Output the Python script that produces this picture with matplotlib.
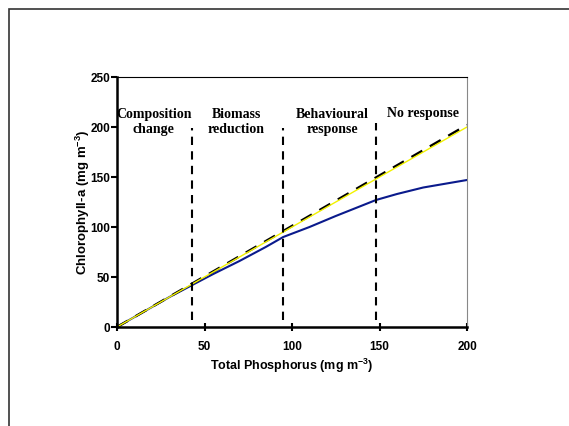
import matplotlib
matplotlib.use("Agg")
import matplotlib.pyplot as plt
from matplotlib.patches import Rectangle

# data
tp_blue = [0, 10, 20, 30, 43, 55, 70, 85, 95, 110, 125, 148, 160, 175, 190, 200]
chl_blue = [0, 10, 20, 30, 42, 53, 66, 80, 90, 100, 111, 127, 133, 139.5, 144, 147]
tp_line = [0, 200]
chl_dashed = [0, 202]
chl_yellow = [0, 200]
bounds = [43, 95, 148]
bound_tops = [199, 199, 204]
zone_labels = ["Composition\nchange", "Biomass\nreduction", "Behavioural\nresponse", "No response"]
zone_x = [21, 68, 123, 175]
zone_y = [205, 205, 205, 214]

fig = plt.figure(figsize=(5.69, 4.26), dpi=100)
fig.patches.append(Rectangle((9 / 569, -0.1), 1.2, 1 - 9 / 426 + 0.1,
                             transform=fig.transFigure, fill=False,
                             edgecolor="#333333", linewidth=1.2))

ax = fig.add_axes([117 / 569, 1 - 327 / 426, 350 / 569, 250 / 426])

ax.plot(tp_blue, chl_blue, color="#0a1a8c", linewidth=1.5)
ax.plot(tp_line, chl_dashed, color="black", linewidth=1.8, dashes=(5, 3.5))
ax.plot(tp_line, chl_yellow, color="#f2f200", linewidth=1.0)
for b, t in zip(bounds, bound_tops):
    ax.plot([b, b], [7, t], color="black", linewidth=1.5, dashes=(4, 3))

for x, y, s in zip(zone_x, zone_y, zone_labels):
    ax.text(x, y, s, ha="center", va="center", family="Liberation Serif",
            fontweight="bold", fontsize=10, linespacing=1.15)

ax.set_xlim(0, 200)
ax.set_ylim(0, 250)
ax.set_xticks([0, 50, 100, 150, 200])
ax.set_yticks([0, 50, 100, 150, 200, 250])

for side in ["left", "bottom"]:
    ax.spines[side].set_linewidth(1.8)
ax.spines["top"].set_linewidth(0.8)
ax.spines["right"].set_linewidth(0.8)
ax.spines["right"].set_color("#888888")

ax.tick_params(axis="y", direction="out", length=4, width=1.5, pad=1)
ax.tick_params(axis="x", direction="inout", length=6, width=1.5, pad=7)
for lab in ax.get_xticklabels() + ax.get_yticklabels():
    lab.set_family("Liberation Sans")
    lab.set_fontweight("bold")
    lab.set_fontsize(8.5)

ax.set_xlabel("Total Phosphorus (mg m$^{\\mathregular{-3}}$)", family="Liberation Sans",
              fontweight="bold", fontsize=9)
ax.set_ylabel("Chlorophyll-a (mg m$^{\\mathregular{-3}}$)", family="Liberation Sans",
              fontweight="bold", fontsize=9.5)
ax.xaxis.set_label_coords(0.5, -0.12)
ax.yaxis.set_label_coords(-0.072, 0.5)

fig.savefig("out.png", dpi=100)
